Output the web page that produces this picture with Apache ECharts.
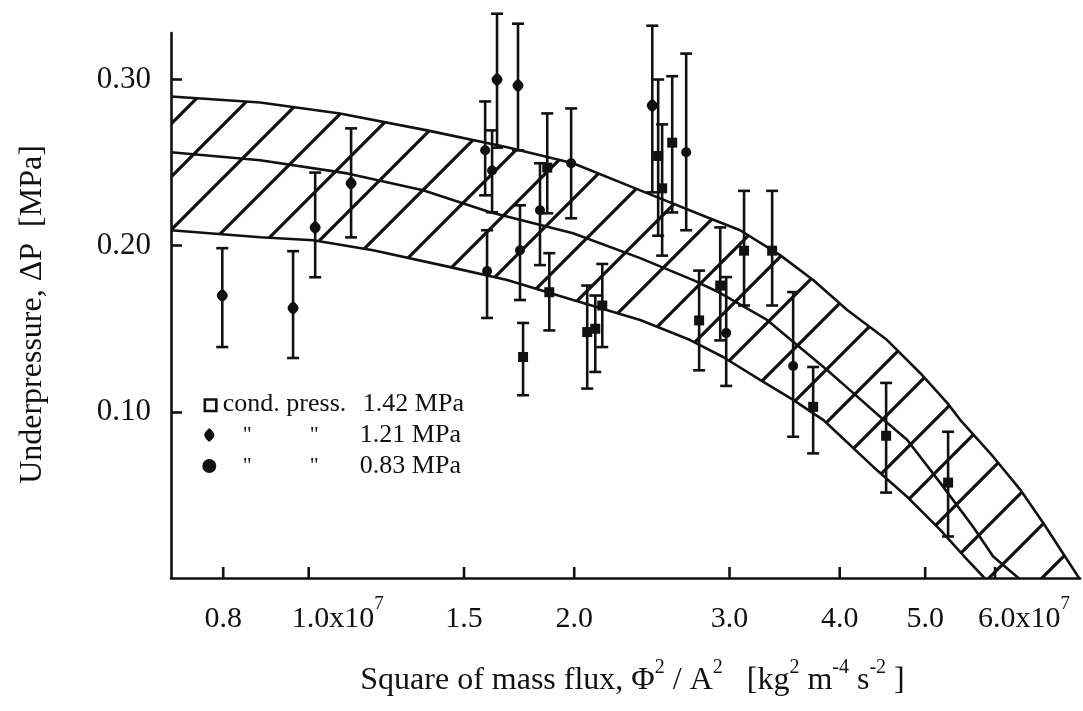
<!DOCTYPE html>
<html><head><meta charset="utf-8">
<script src="https://cdn.jsdelivr.net/npm/echarts@6/dist/echarts.min.js"></script>
<style>html,body{margin:0;padding:0;background:#fff}#c{width:1083px;height:711px}</style>
</head><body><div id="c"></div>
<script>
// x values in units of 1e7 kg^2 m^-4 s^-2, y values in MPa
const xTickValues = [0.8, 1.0, 1.5, 2.0, 3.0, 4.0, 5.0, 6.0];
const yTickValues = [0.10, 0.20, 0.30];

// 1.42 MPa (squares)
const sqX  = [1.750, 1.864, 1.874, 2.069, 2.113, 2.152, 2.490, 2.516, 2.583, 2.771, 2.928, 3.116, 3.353, 3.732, 4.515, 5.308];
const sqY  = [0.133, 0.247, 0.172, 0.148, 0.150, 0.164, 0.254, 0.2345, 0.262, 0.155, 0.176, 0.197, 0.197, 0.103, 0.0856, 0.0574];
const sqLo = [0.110, 0.2195, 0.149, 0.114, 0.124, 0.139, 0.206, 0.194, 0.220, 0.125, 0.143, 0.164, 0.164, 0.075, 0.0514, 0.025];
const sqHi = [0.1535, 0.2796, 0.1955, 0.176, 0.170, 0.189, 0.300, 0.273, 0.302, 0.185, 0.211, 0.233, 0.233, 0.127, 0.1174, 0.088];

// 1.21 MPa (diamonds)
const diX  = [0.798, 0.960, 1.017, 1.117, 1.635, 1.727, 2.452];
const diY  = [0.170, 0.1625, 0.211, 0.2375, 0.300, 0.2964, 0.2844];
const diLo = [0.139, 0.1324, 0.181, 0.205, 0.259, 0.2574, 0.2321];
const diHi = [0.1985, 0.1967, 0.244, 0.2706, 0.3396, 0.3336, 0.3324];

// 0.83 MPa (circles)
const ciX  = [1.585, 1.614, 1.593, 1.736, 1.829, 1.984, 2.679, 2.974, 3.542];
const ciY  = [0.2574, 0.2453, 0.1847, 0.1973, 0.2213, 0.2496, 0.2562, 0.1474, 0.1276];
const ciLo = [0.2303, 0.2201, 0.1565, 0.1673, 0.1883, 0.2165, 0.2093, 0.1156, 0.085];
const ciHi = [0.2868, 0.2694, 0.2093, 0.2243, 0.2496, 0.2826, 0.3156, 0.1811, 0.1721];

// band curves
const upX = [0.698, 0.881, 1.085, 1.362, 1.679, 1.994, 2.376, 2.829, 3.084, 3.423, 3.732, 4.079, 4.527, 4.934, 5.295, 5.478, 5.971, 6.407, 6.802, 7.49, 7.79];
const upY = [0.2898, 0.2862, 0.2796, 0.2694, 0.2592, 0.2496, 0.2333, 0.2171, 0.2093, 0.1943, 0.1793, 0.1613, 0.1432, 0.1234, 0.1054, 0.0952, 0.0730, 0.0532, 0.0333, -0.0009, -0.016];
const midX = [0.698, 0.881, 1.106, 1.348, 1.606, 1.994, 2.376, 2.729, 2.928, 3.309, 3.578, 3.870, 4.142, 4.445, 4.769, 5.198, 5.665, 5.971, 6.407, 6.661];
const midY = [0.2562, 0.2514, 0.2435, 0.2333, 0.2201, 0.2075, 0.1925, 0.1793, 0.1715, 0.1553, 0.1402, 0.1252, 0.1114, 0.0970, 0.0832, 0.0574, 0.0309, 0.0129, -0.0009, -0.013];
const loX = [0.698, 0.881, 1.012, 1.183, 1.447, 1.679, 1.994, 2.376, 2.707, 2.950, 3.249, 3.542, 3.830, 4.364, 4.769, 5.198, 5.578, 5.816, 6.0];
const loY = [0.2093, 0.2051, 0.2033, 0.1973, 0.1871, 0.1793, 0.1673, 0.1553, 0.1432, 0.1330, 0.1192, 0.1072, 0.0952, 0.0670, 0.0489, 0.0291, 0.0111, 0.0009, -0.008];

const INK = '#111';
const FONT = '"Liberation Serif", "Times New Roman", serif';

function hatchCanvas() {
  const P = 53, c = document.createElement('canvas');
  c.width = P; c.height = P;
  const g = c.getContext('2d');
  g.strokeStyle = INK; g.lineWidth = 3.2;
  g.beginPath();
  g.moveTo(-10, 40); g.lineTo(40, -10);
  g.moveTo(20, 63); g.lineTo(63, 20);
  g.stroke();
  return c;
}
const hatch = hatchCanvas();

function pairs(X, Y) { return X.map((x, i) => [x, Y[i]]); }

function errSeries(name, X, Y, LO, HI) {
  return {
    name, type: 'custom', coordinateSystem: 'cartesian2d', z: 4, silent: true,
    itemStyle: { color: INK },
    encode: { x: 0, y: [1, 2, 3] },
    data: X.map((x, i) => [x, Y[i], LO[i], HI[i]]),
    renderItem(p, api) {
      const x = api.value(0);
      const a = api.coord([x, api.value(2)]);
      const b = api.coord([x, api.value(3)]);
      const w = 6;
      const st = { stroke: INK, lineWidth: 2.6 };
      return { type: 'group', children: [
        { type: 'line', shape: { x1: a[0], y1: a[1], x2: b[0], y2: b[1] }, style: st },
        { type: 'line', shape: { x1: a[0] - w, y1: a[1], x2: a[0] + w, y2: a[1] }, style: st },
        { type: 'line', shape: { x1: b[0] - w, y1: b[1], x2: b[0] + w, y2: b[1] }, style: st }
      ]};
    }
  };
}
function curve(X, Y) {
  return { type: 'line', data: pairs(X, Y), showSymbol: false, silent: true, z: 3,
    lineStyle: { color: INK, width: 2.6 }, clip: true };
}

const N1 = 'cond. press. 1.42 MPa', N2 = '1.21 MPa', N3 = '0.83 MPa';
const diamondPath = 'path://M5,0 C7,2 10,4 10,7 C10,10 7,12 5,14 C3,12 0,10 0,7 C0,4 3,2 5,0 Z';
const squarePath = 'path://M-2,-2 L-2,-2 M0,0 L9,0 L9,9 L0,9 Z';

const tickRich = {
  pad: { width: 58, lineHeight: 48 },
  n: { fontFamily: FONT, fontSize: 30, lineHeight: 48, fill: INK },
  sup: { fontFamily: FONT, fontSize: 19, lineHeight: 19, verticalAlign: 'top', fill: INK }
};
function xTickText(v) {
  return (Math.abs(v - 1) < 1e-9 || Math.abs(v - 6) < 1e-9)
    ? '{pad|}{n|' + v.toFixed(1) + 'x10}{sup|7}' : '{n|' + v.toFixed(1) + '}';
}

const chart = echarts.init(document.getElementById('c'), null, { renderer: 'canvas' });
chart.setOption({
  backgroundColor: '#fff',
  animation: false,
  grid: { left: 171, right: 3, top: 33, bottom: 133 },
  xAxis: {
    type: 'log', logBase: 10, min: 0.698, max: 7.49,
    splitLine: { show: false }, minorTick: { show: false },
    axisLine: { lineStyle: { color: INK, width: 2.6 } },
    axisTick: { show: false }, axisLabel: { show: false },
    name: '{t|Square of mass flux, \u03A6}{s|2}{t| / A}{s|2}{t|   [kg}{s|2}{t| m}{s|-4}{t| s}{s|-2}{t| ]}',
    nameLocation: 'middle', nameGap: 80,
    nameTextStyle: {
      padding: [0, 0, 0, 14],
      rich: {
        t: { fontFamily: FONT, fontSize: 32, lineHeight: 46, color: INK },
        s: { fontFamily: FONT, fontSize: 20, lineHeight: 20, verticalAlign: 'top', color: INK }
      }
    }
  },
  yAxis: {
    type: 'value', min: 0, max: 0.328, interval: 0.1,
    splitLine: { show: false },
    axisLine: { lineStyle: { color: INK, width: 2.6 } },
    axisTick: { inside: true, length: 11, lineStyle: { color: INK, width: 2.6 } },
    axisLabel: { showMinLabel: false, showMaxLabel: false, margin: 20, color: INK, fontFamily: FONT, fontSize: 31,
      formatter: v => (v > 0.05 && v < 0.32) ? v.toFixed(2) : '' },
    name: 'Underpressure, \u0394P  [MPa]', nameLocation: 'middle', nameGap: 122, nameRotate: 90,
    nameTextStyle: { fontFamily: FONT, fontSize: 32, color: INK, padding: [0, 0, 0, -18] }
  },
  legend: {
    left: 196, top: 386, orient: 'vertical', itemGap: 5, itemWidth: 17, itemHeight: 14,
    symbolKeepAspect: true, selectedMode: false,
    data: [
      { name: N1, icon: squarePath, itemStyle: { color: '#fff', borderColor: INK, borderWidth: 2.6 } },
      { name: N2, icon: diamondPath, itemStyle: { color: INK, borderWidth: 0 } },
      { name: N3, icon: 'circle', itemStyle: { color: INK, borderWidth: 0 } }
    ],
    formatter: n => n === N1 ? '{a|cond. press. }{b|1.42 MPa}'
      : '{g1| }{q|"}{g2| }{q|"}{g3| }{b|' + n + '}',
    textStyle: {
      fontFamily: FONT, fontSize: 26, lineHeight: 24, color: INK,
      rich: {
        a: { fontFamily: FONT, fontSize: 26, width: 140, color: INK },
        b: { fontFamily: FONT, fontSize: 26, color: INK },
        q: { fontFamily: FONT, fontSize: 22, width: 10, color: INK },
        g1: { width: 20 }, g2: { width: 57 }, g3: { width: 40 }
      }
    }
  },
  series: [
    {
      type: 'custom', coordinateSystem: 'cartesian2d', clip: true, silent: true, z: 2,
      encode: { x: 0, y: 1 },
      data: [[upX[0], upY[0]]],
      renderItem(p, api) {
        const up = upX.map((x, i) => api.coord([x, upY[i]]));
        const lo = loX.map((x, i) => api.coord([x, loY[i]]));
        return { type: 'polygon', shape: { points: up.concat(lo.reverse()) },
          style: { fill: { image: hatch, repeat: 'repeat' }, stroke: null } };
      }
    },
    curve(upX, upY), curve(midX, midY), curve(loX, loY),
    // x-axis ticks and labels placed by the log scale
    {
      type: 'custom', coordinateSystem: 'cartesian2d', clip: false, silent: true, z: 6,
      encode: { x: 0, y: 1 },
      data: xTickValues.map(v => [v, 0]),
      renderItem(p, api) {
        const v = api.value(0);
        const c = api.coord([v, 0]);
        return { type: 'group', children: [
          { type: 'line', shape: { x1: c[0], y1: c[1], x2: c[0], y2: c[1] - 11 },
            style: { stroke: INK, lineWidth: 2.6 } },
          { type: 'text', x: c[0], y: c[1] + 17,
            style: { text: xTickText(v), align: 'center', verticalAlign: 'top', rich: tickRich,
              font: '30px ' + FONT, fill: INK } }
        ]};
      }
    },
    errSeries(N1, sqX, sqY, sqLo, sqHi),
    errSeries(N2, diX, diY, diLo, diHi),
    errSeries(N3, ciX, ciY, ciLo, ciHi),
    { name: N1, type: 'scatter', z: 5, silent: true, symbol: 'rect', symbolSize: 10,
      itemStyle: { color: INK, opacity: 1 }, data: pairs(sqX, sqY) },
    { name: N2, type: 'scatter', z: 5, silent: true, symbol: diamondPath, symbolSize: [11, 14],
      itemStyle: { color: INK, opacity: 1 }, data: pairs(diX, diY) },
    { name: N3, type: 'scatter', z: 5, silent: true, symbol: 'circle', symbolSize: 10,
      itemStyle: { color: INK, opacity: 1 }, data: pairs(ciX, ciY) }
  ]
});
</script></body></html>
